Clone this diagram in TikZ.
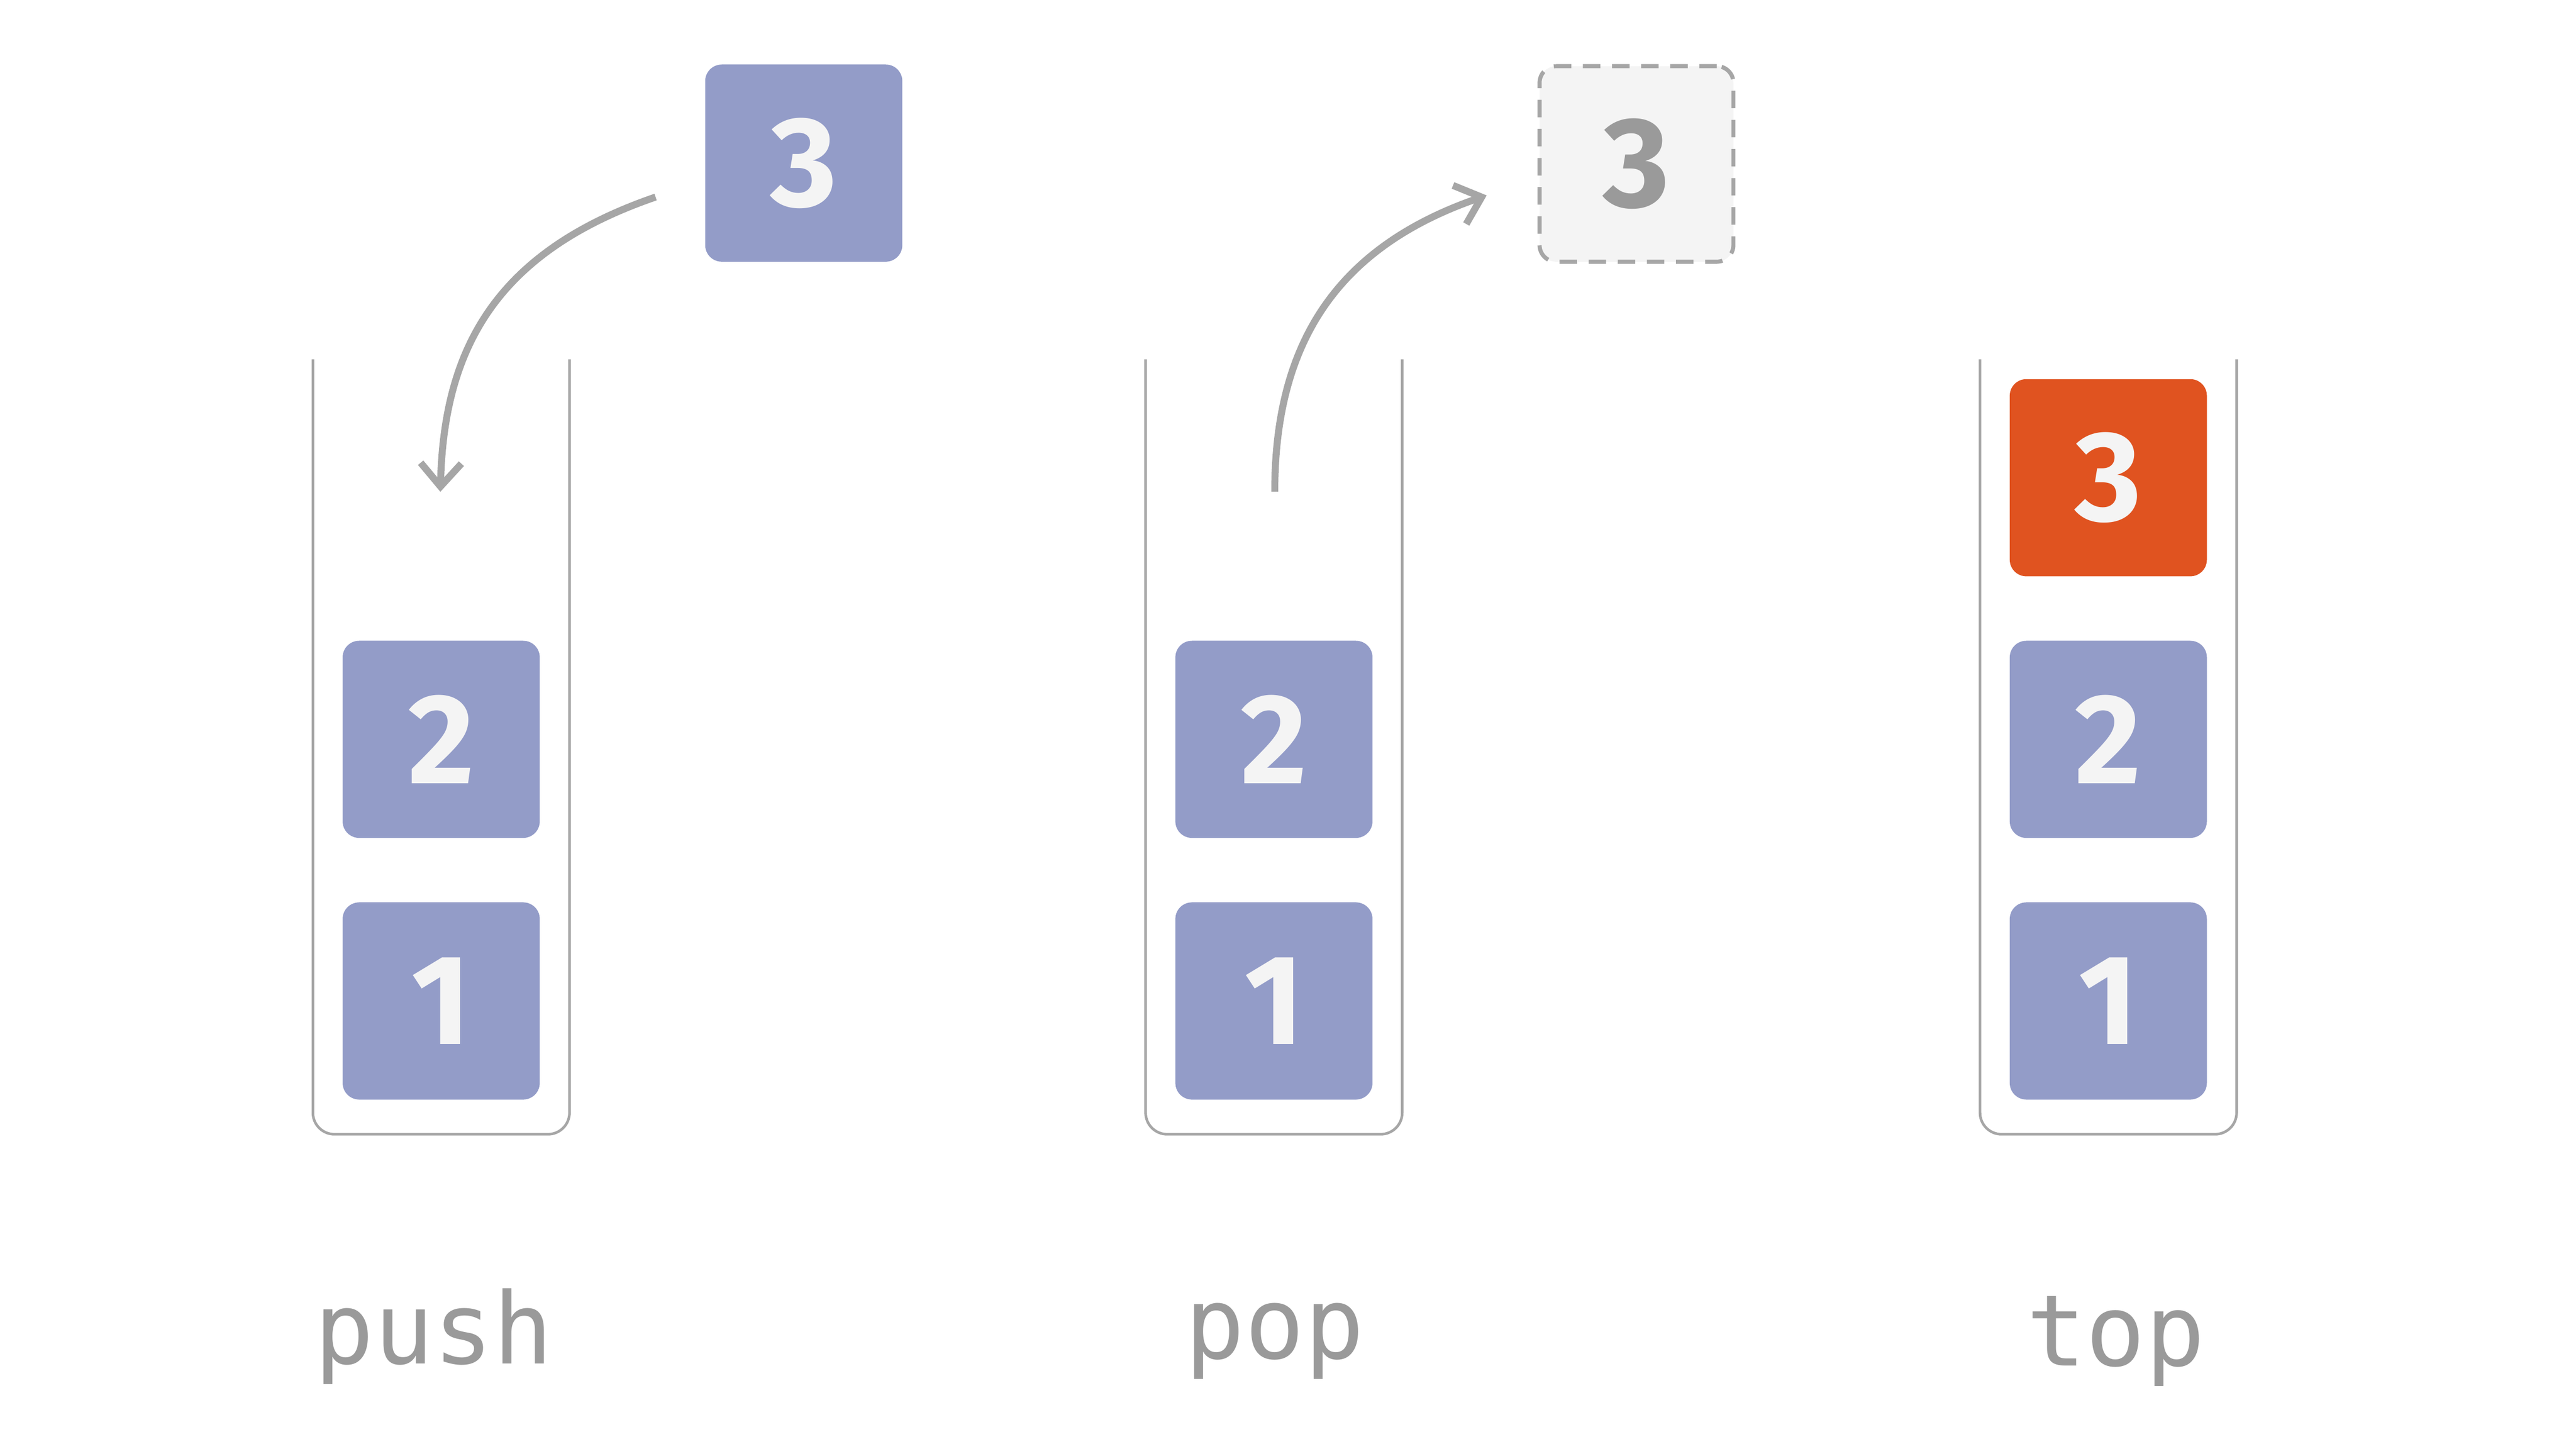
\documentclass[tikz,border=0pt]{standalone}
\usepackage{fontspec}
\setmainfont{Fira Sans}
\newfontfamily\monof{DejaVu Sans Mono}
\usetikzlibrary{arrows.meta}
\definecolor{blk}{HTML}{939CC8}
\definecolor{red}{HTML}{E05320}
\definecolor{gry}{HTML}{A6A6A6}
\definecolor{wht}{HTML}{F4F4F4}
\definecolor{lbl}{HTML}{9A9A9A}
\begin{document}
\begin{tikzpicture}[x=0.01cm,y=-0.01cm,
  box/.style={minimum width=1.19cm,minimum height=1.19cm,rounded corners=0.1cm,inner sep=0,font=\fontsize{22}{24}\selectfont\bfseries,text=wht},
  blue/.style={box,fill=blk},
  hot/.style={box,fill=red},
  ghost/.style={box,fill=wht,draw=gry,dashed,line width=0.7pt,dash pattern=on 3pt off 2pt,text=lbl},
  cont/.style={draw=gry,line width=0.45pt,rounded corners=0.13cm},
  arr/.style={draw=gry,line width=1.2pt,-{Straight Barb[length=4pt,width=7pt]}},
  lab/.style={font=\monof\fontsize{17}{20}\selectfont,text=lbl}]
\useasboundingbox (0,0) rectangle (1556,875);
% containers
\foreach \o in {0,503,1007}{
  \draw[cont] (189+\o,217) -- (189+\o,685) -- (344+\o,685) -- (344+\o,217);
}
% push
\node[blue] (p2) at (266.5,446.5) {2};
\node[blue] (p1) at (266.5,604.5) {1};
\node[blue] (p3) at (485.5,98.5) {3};
\coordinate (ps) at (396,119);
\coordinate (pe) at (266,297);
\draw[arr] (ps) .. controls (300,152) and (268,210) .. (pe);
\node[lab] (lpush) at (262,807) {push};
% pop
\node[blue] (q2) at (769.5,446.5) {2};
\node[blue] (q1) at (769.5,604.5) {1};
\node[ghost,minimum width=1.17cm,minimum height=1.18cm] (q3) at (988.5,99) {3};
\coordinate (qs) at (770,297);
\coordinate (qe) at (898,118);
\draw[arr] (qs) .. controls (770,210) and (805,150) .. (qe);
\node[lab] (lpop) at (770,810) {pop};
% top
\node[hot] (t3) at (1273.5,288.5) {3};
\node[blue] (t2) at (1273.5,446.5) {2};
\node[blue] (t1) at (1273.5,604.5) {1};
\node[lab] (ltop) at (1278,810) {top};
\end{tikzpicture}
\end{document}
